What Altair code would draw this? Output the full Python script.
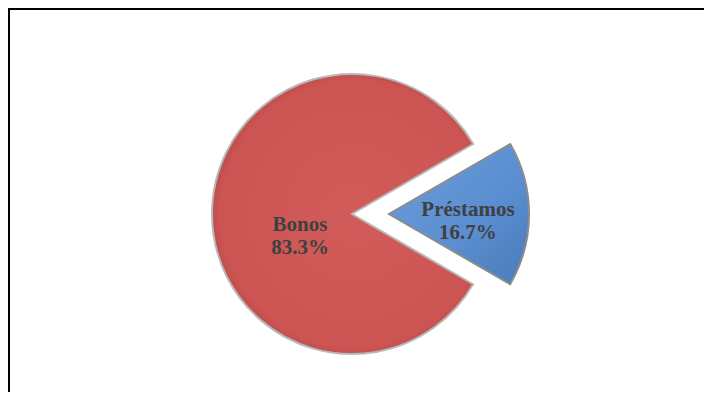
import math
import altair as alt
import pandas as pd

# Data
categories = ["Bonos", "Préstamos"]
values = [83.3, 16.7]
title_text = "(En Porcentajes)"

df = pd.DataFrame({"cat": categories, "value": values})

W, H = 696, 384
CX, CY = 344, 206        # centre of the red pie
EXPLODE = 37             # blue slice pulled out to the right
R = 140

theta_scale = alt.Scale(domain=[0, 100], range=[math.pi / 3, math.pi / 3 + 2 * math.pi])

base = (
    alt.Chart(df)
    .transform_window(cum="sum(value)", sort=[alt.SortField("cat", order="descending")])
    .transform_calculate(
        start="datum.cum - datum.value",
        mid="datum.cum - datum.value / 2",
        label="datum.cat + '\\n' + format(datum.value, '.1f') + '%'",
    )
)

red_fill = alt.Gradient(
    gradient="radial",
    stops=[
        alt.GradientStop(color="#D25C5A", offset=0),
        alt.GradientStop(color="#CC5553", offset=0.88),
        alt.GradientStop(color="#B04644", offset=1),
    ],
    x1=0.54, y1=0.5, x2=0.54, y2=0.5, r1=0, r2=0.54,
)
blue_fill = alt.Gradient(
    gradient="linear",
    stops=[
        alt.GradientStop(color="#6A9EDC", offset=0),
        alt.GradientStop(color="#5A8ED0", offset=0.6),
        alt.GradientStop(color="#4A7AB8", offset=1),
    ],
    x1=0, y1=0, x2=1, y2=1,
)

red = base.transform_filter(alt.datum.cat == "Bonos").mark_arc(
    x=CX, y=CY, outerRadius=R, fill=red_fill, stroke="#B8B8B8", strokeWidth=2
).encode(theta=alt.Theta("start:Q", scale=theta_scale), theta2="cum:Q")

blue = base.transform_filter(alt.datum.cat == "Préstamos").mark_arc(
    x=CX + EXPLODE, y=CY, outerRadius=R, fill=blue_fill, stroke="#8C8C8C", strokeWidth=2
).encode(theta=alt.Theta("start:Q", scale=theta_scale), theta2="cum:Q")

text_style = dict(
    font="Liberation Serif", fontWeight="bold", fontSize=21, color="#404040",
    lineBreak="\n", lineHeight=23, align="center", baseline="middle",
)

red_label = base.transform_filter(alt.datum.cat == "Bonos").mark_text(
    x=CX, y=CY, radius=52, dy=11, **text_style
).encode(theta=alt.Theta("mid:Q", scale=theta_scale), text="label:N")

blue_label = base.transform_filter(alt.datum.cat == "Préstamos").mark_text(
    x=CX + EXPLODE, y=CY, radius=79, dy=-4, **text_style
).encode(theta=alt.Theta("mid:Q", scale=theta_scale), text="label:N")

frame = alt.Chart(pd.DataFrame({"f": [0]})).mark_rect(
    fill=None, stroke="black", strokeWidth=2
).encode(x=alt.value(1), y=alt.value(1), x2=alt.value(W + 40), y2=alt.value(H + 40))

title = alt.Chart(pd.DataFrame({"t": [title_text]})).mark_text(
    font="Liberation Serif", fontWeight="bold", fontSize=22, color="black",
    align="center", baseline="alphabetic",
).encode(x=alt.value(348), y=alt.value(-4), text="t:N")

chart = (
    alt.layer(frame, title, red, blue, red_label, blue_label)
    .properties(width=W, height=H, padding=0, autosize=alt.AutoSizeParams(type="none"))
    .configure_view(stroke=None)
)

chart.save("out.html", embed_options={"renderer": "svg", "actions": False})
